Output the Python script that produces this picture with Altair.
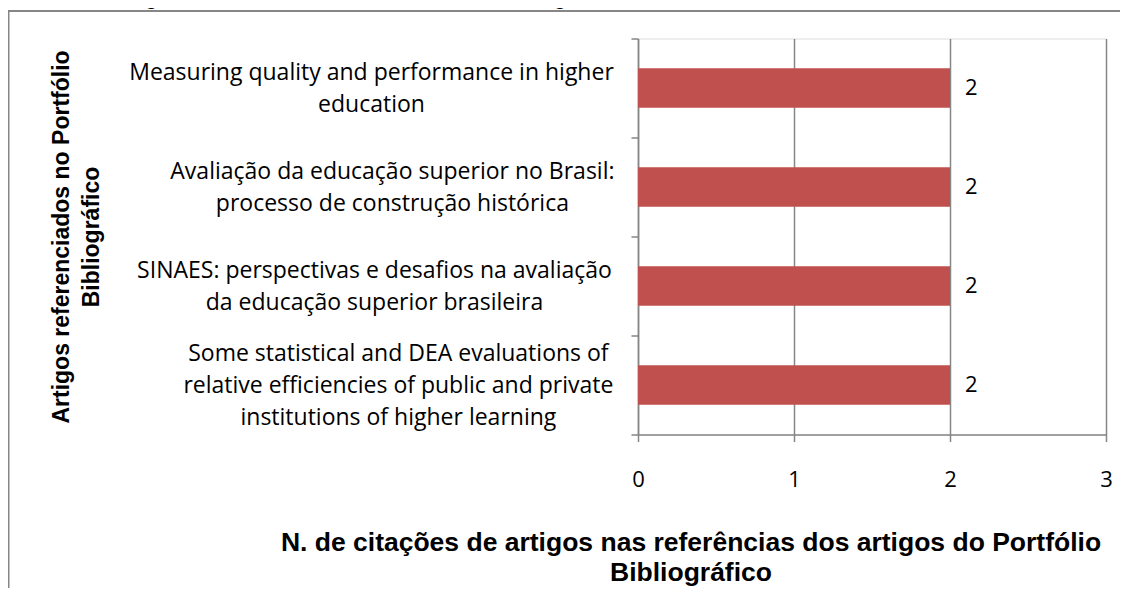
import altair as alt
import pandas as pd

# ---- data ----
categories = [
    "Measuring quality and performance in higher|education",
    "Avaliação da educação superior no Brasil:|processo de construção histórica",
    "SINAES: perspectivas e desafios na avaliação|da educação superior brasileira",
    "Some statistical and DEA evaluations of|relative efficiencies of public and private|institutions of higher learning",
]
citations = [2, 2, 2, 2]
x_ticks = [0, 1, 2, 3]
chart_title = "Gráfico 6 - Artigos mais Referenciados no Portfólio Bibliográfico"
x_title = ["N. de citações de artigos nas referências dos artigos do Portfólio", "Bibliográfico"]
y_title = ["Artigos referenciados no Portfólio", "Bibliográfico"]

df = pd.DataFrame({"artigo": categories, "citacoes": citations})

GRAY = "#868686"
BAR = "#C0504D"
LABEL_FONT = "Open Sans"
TITLE_FONT = "Liberation Sans"
LINE_H = 32
NB = "\u00a0"
ZW = "\u200b"  # keeps the leading indent from being trimmed

x_enc = alt.X(
    "citacoes:Q",
    scale=alt.Scale(domain=[0, 3], nice=False),
    axis=alt.Axis(
        values=x_ticks, format="d", title=x_title,
        grid=True, gridColor=GRAY, gridWidth=1.5,
        domainColor=GRAY, domainWidth=1.5,
        tickColor=GRAY, tickWidth=1.5, tickSize=7,
        labelFont=LABEL_FONT, labelFontSize=22, labelColor="black",
        labelBaseline="alphabetic", labelPadding=45, labelFlush=False,
        titleFont=TITLE_FONT, titleFontSize=26.5, titleFontWeight="bold", titleColor="black",
        titleLineHeight=30, titleX=52.5, titleY=115.5, titleAlign="center",
        titleBaseline="alphabetic",
    ),
)

# label blocks sit right-aligned near the axis with their lines centred:
# a small leading indent per block shifts the centred lines accordingly
pad = (
    f"(indexof(datum.label, 'Avalia') == 0 ? '{ZW + NB * 7}' : "
    f"indexof(datum.label, 'SINAES') == 0 ? '{ZW + NB * 1}' : "
    f"indexof(datum.label, 'Some') == 0 ? '{ZW + NB * 9}' : '')"
)
label_expr = (
    f"split({pad} + replace(replace(datum.label, '|', '¦' + {pad}), '|', '¦' + {pad}), '¦')"
)

y_enc = alt.Y(
    "artigo:N",
    sort=categories,
    scale=alt.Scale(paddingInner=0, paddingOuter=0),
    axis=alt.Axis(
        title=y_title,
        labelExpr=label_expr,
        labelAlign="center", labelBaseline="middle", labelPadding=260, labelLimit=0,
        labelOffset={
            "condition": {"test": "length(split(datum.value, '|')) > 2", "value": -LINE_H},
            "value": -LINE_H / 2,
        },
        labelFont=LABEL_FONT, labelFontSize=23, labelLineHeight=LINE_H, labelColor="black",
        tickBand="extent", tickSize=7, tickColor=GRAY, tickWidth=1.5,
        domainColor=GRAY, domainWidth=1.5, grid=False,
        titleFont=TITLE_FONT, titleFontSize=23, titleFontWeight="bold", titleColor="black",
        titleLineHeight=30, titleX=-577, titleY=198, titleAlign="center",
        titleBaseline="middle",
    ),
)

base = alt.Chart(df).encode(x=x_enc, y=y_enc)

bars = base.mark_bar(color=BAR, height=alt.RelativeBandSize(0.4))

value_labels = base.mark_text(
    align="left", baseline="middle", dx=15,
    font=LABEL_FONT, fontSize=22, color="black",
).encode(text="citacoes:Q")

one = pd.DataFrame({"t": [chart_title]})

frame = alt.Chart(one).mark_rect(filled=False, stroke=GRAY, strokeWidth=2).encode(
    x=alt.value(-629.5), x2=alt.value(1200), y=alt.value(-27.5), y2=alt.value(1200)
)

top_title = alt.Chart(one).mark_text(
    align="left", baseline="alphabetic", font=TITLE_FONT, fontSize=20,
    fontWeight="bold", color="black",
).encode(x=alt.value(-631), y=alt.value(-34), text="t:N")

chart = alt.layer(frame, top_title, bars, value_labels).properties(
    width=468,
    height=396,
    padding={"left": 630, "top": 30.5, "right": 14, "bottom": 153.5},
    autosize=alt.AutoSizeParams(type="none"),
).configure_view(stroke=None).configure(background="white")

chart.save("out.html", embed_options={"renderer": "svg", "actions": False})
